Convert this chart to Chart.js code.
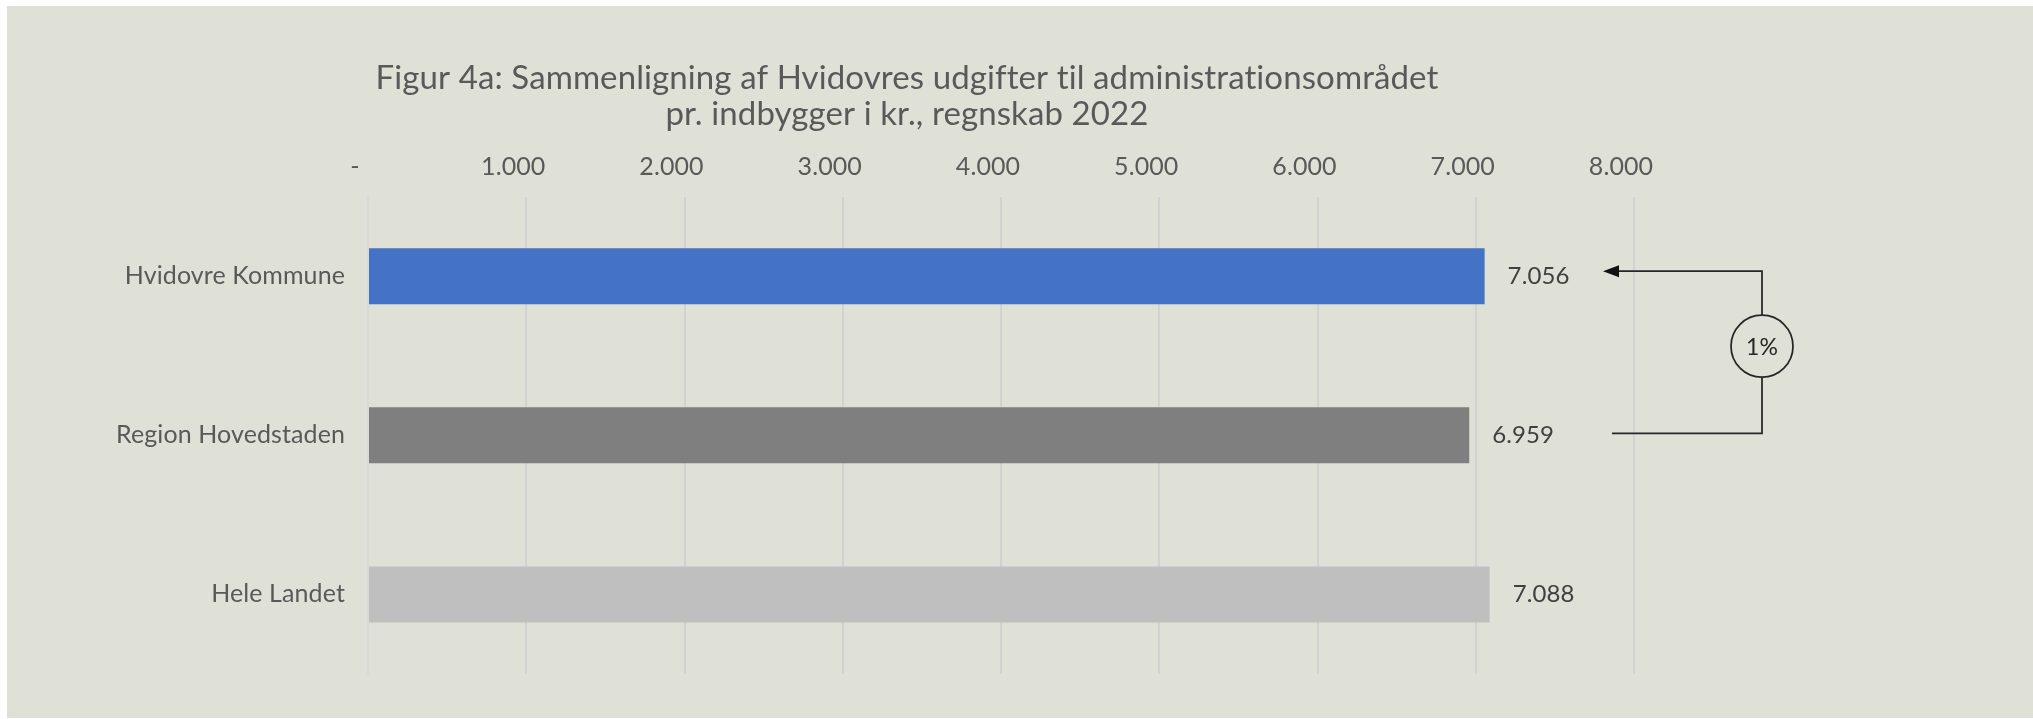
<!DOCTYPE html>
<html>
<head>
<meta charset="utf-8">
<script src="https://cdn.jsdelivr.net/npm/chart.js@4.4.1/dist/chart.umd.min.js"></script>
<style>
	html, body { margin: 0; padding: 0; background: #fff; }
	#wrap { position: absolute; left: 7px; top: 6px; width: 2026px; height: 712px; background: #DFE1D7; }
	canvas { display: block; }
</style>
</head>
<body>
<div id="wrap"><canvas id="chart" width="2026" height="712"></canvas></div>
<script>
// data
const categories = ['Hvidovre Kommune', 'Region Hovedstaden', 'Hele Landet'];
const values = [7056, 6959, 7088];
const tickLabels = ['-', '1.000', '2.000', '3.000', '4.000', '5.000', '6.000', '7.000', '8.000'];
const titleLines = [
	'Figur 4a: Sammenligning af Hvidovres udgifter til administrationsområdet',
	'pr. indbygger i kr., regnskab 2022',
];

const barColors = ['#4472C4', '#7F7F7F', '#BFBFBF'];
const FONT = 'Lato';

// danish thousands separator
function fmt(v) {
	return String(v).replace(/\B(?=(\d{3})+(?!\d))/g, '.');
}

// the y labels are wider than the narrow y box (kept narrow so the title centres right),
// so widen the label clip area after layout
const unclipY = {
	id: 'unclipY',
	afterLayout(chart) {
		chart.scales.y.left = 0;
	},
	beforeDraw(chart) {
		// tiny letter spacing switches off the "ti" ligature of Lato
		chart.ctx.letterSpacing = '0.1px';
	},
};

// value labels right of the bars
const barLabels = {
	id: 'barLabels',
	afterDatasetsDraw(chart) {
		const { ctx } = chart;
		const meta = chart.getDatasetMeta(0);
		ctx.save();
		ctx.font = `24px ${FONT}`;
		ctx.fillStyle = '#404040';
		ctx.textAlign = 'left';
		ctx.textBaseline = 'middle';
		meta.data.forEach((bar, i) => {
			ctx.fillText(fmt(values[i]), bar.x + 23, bar.y);
		});
		ctx.restore();
	},
};

// bracket with arrow and percentage difference between first two bars
const diffMarker = {
	id: 'diffMarker',
	afterDraw(chart) {
		const { ctx, chartArea } = chart;
		const meta = chart.getDatasetMeta(0);
		const yTop = meta.data[0].y - 5;
		const yBot = meta.data[1].y - 2;
		const xBr = chartArea.right + 128;
		const xTip = chartArea.right - 31;
		const xStart = chartArea.right - 22;
		const r = 31;
		const cy = (yTop + yBot) / 2 - 6;

		ctx.save();
		ctx.strokeStyle = '#262626';
		ctx.lineWidth = 1.75;
		ctx.beginPath();
		ctx.moveTo(xTip + 16, yTop);
		ctx.lineTo(xBr, yTop);
		ctx.lineTo(xBr, cy - r);
		ctx.moveTo(xBr, cy + r);
		ctx.lineTo(xBr, yBot);
		ctx.lineTo(xStart, yBot);
		ctx.stroke();

		ctx.beginPath();
		ctx.arc(xBr, cy, r, 0, Math.PI * 2);
		ctx.stroke();

		ctx.fillStyle = '#111';
		ctx.beginPath();
		ctx.moveTo(xTip, yTop);
		ctx.lineTo(xTip + 16, yTop - 6);
		ctx.lineTo(xTip + 16, yTop + 6);
		ctx.closePath();
		ctx.fill();

		const pct = Math.round(((values[0] - values[1]) / values[1]) * 100) + '%';
		ctx.font = `23px ${FONT}`;
		ctx.fillStyle = '#262626';
		ctx.textAlign = 'center';
		ctx.textBaseline = 'middle';
		ctx.fillText(pct, xBr, cy + 1);
		ctx.restore();
	},
};

const data = {
	labels: categories,
	datasets: [
		{
			data: values,
			backgroundColor: barColors,
			borderWidth: 0,
			barPercentage: 0.352,
			categoryPercentage: 1,
		},
	],
};

const config = {
	type: 'bar',
	data,
	options: {
		indexAxis: 'y',
		responsive: false,
		animation: false,
		layout: {
			padding: { left: 173, right: 399, top: 0, bottom: 44 },
		},
		scales: {
			x: {
				position: 'top',
				min: 0,
				max: 8000,
				ticks: {
					stepSize: 1000,
					padding: 15,
					labelOffset: -13,
					color: '#595959',
					font: { family: FONT, size: 25 },
					callback: (value, index) => tickLabels[index],
				},
				grid: {
					color: '#D3D1D1',
					lineWidth: 2,
					drawTicks: false,
				},
				border: { display: false },
				afterFit: scale => {
					scale.height = 64;
					scale.paddingLeft = 0;
					scale.paddingRight = 0;
				},
			},
			y: {
				ticks: {
					padding: 23,
					color: '#595959',
					font: { family: FONT, size: 25 },
				},
				grid: { display: false, drawTicks: false },
				border: { display: true, color: '#D9D9D9', width: 2, z: 1 },
				afterFit: scale => {
					scale.width = 188;
					scale.paddingTop = 0;
					scale.paddingBottom = 0;
				},
			},
		},
		plugins: {
			legend: { display: false },
			tooltip: { enabled: false },
			title: {
				display: true,
				text: titleLines,
				color: '#595959',
				font: { family: FONT, size: 33, weight: 'normal', lineHeight: 1.1 },
				padding: { top: 54, bottom: 0 },
			},
		},
	},
	plugins: [unclipY, barLabels, diffMarker],
};

const myChart = new Chart(document.getElementById('chart'), config);
</script>
</body>
</html>
